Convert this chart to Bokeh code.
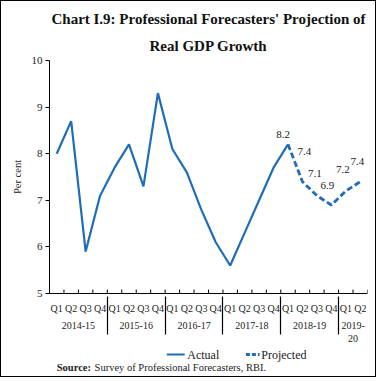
from bokeh.plotting import figure
from bokeh.layouts import column
from bokeh.models import FactorRange, Range1d, FixedTicker, ColumnDataSource, Title, Label
from bokeh.core.properties import value
from bokeh.embed import file_html
from bokeh.resources import INLINE

years = ["2014-15", "2015-16", "2016-17", "2017-18", "2018-19", "2019-\n20"]
quarters_per_year = [["Q1", "Q2", "Q3", "Q4"]] * 5 + [["Q1", "Q2"]]
actual = [8.0, 8.7, 5.9, 7.1, 7.7, 8.2, 7.3, 9.3, 8.1, 7.6, 6.8, 6.1, 5.6, 6.3, 7.0, 7.7, 8.2]
projected = [8.2, 7.4, 7.1, 6.9, 7.2, 7.4]
projected_labels = ["8.2", "7.4", "7.1", "6.9", "7.2", "7.4"]
y_ticks = [5, 6, 7, 8, 9, 10]
series_names = ["Actual", "Projected"]
source_note = ["Source:", "Survey of Professional Forecasters, RBI."]

factors = [(y, q) for y, qs in zip(years, quarters_per_year) for q in qs]
n = len(factors)

SERIF = "Liberation Serif"
BLUE = "#1f6db6"
DARK = "#222222"
W = 374
H1 = 345
H2 = 30

p = figure(width=W, height=H1, output_backend="svg", toolbar_location=None,
           x_range=FactorRange(*factors, group_padding=0, factor_padding=0, range_padding=0),
           y_range=Range1d(5, 10),
           min_border_left=48, min_border_right=8, min_border_top=59, min_border_bottom=50)
p.grid.visible = False
p.outline_line_color = None
p.background_fill_color = "white"

# y axis
yax = p.yaxis[0]
yax.ticker = FixedTicker(ticks=y_ticks)
yax.minor_tick_line_color = None
yax.major_tick_in = 0
yax.major_tick_out = 4
yax.axis_line_color = "black"
yax.major_tick_line_color = "black"
yax.major_label_text_font = SERIF
yax.major_label_text_font_size = "11px"
yax.major_label_text_color = DARK
yax.major_label_standoff = 3
yax.axis_label = "Per cent"
yax.axis_label_text_font = SERIF
yax.axis_label_text_font_size = "10.5px"
yax.axis_label_text_font_style = "normal"
yax.axis_label_text_color = DARK
yax.axis_label_standoff = 6

# categorical axis with two levels
cax = p.xaxis[0]
cax.axis_line_color = "black"
cax.major_tick_line_color = None
cax.major_label_text_font = SERIF
cax.major_label_text_font_size = "10px"
cax.major_label_text_color = DARK
cax.major_label_orientation = "horizontal"
cax.major_label_standoff = 3
cax.group_text_font = SERIF
cax.group_text_font_size = "10px"
cax.group_text_color = DARK
cax.group_text_font_style = "normal"
cax.separator_line_color = "black"
cax.separator_line_width = 1.2

# inward tick marks at quarter boundaries (synthetic categorical coordinates)
bounds = list(range(n + 1))
p.segment(x0=bounds, x1=bounds, y0=[5] * len(bounds), y1=[5.085] * len(bounds),
          line_color="black", line_width=1)

src_a = ColumnDataSource(dict(x=factors[:len(actual)], y=actual))
src_p = ColumnDataSource(dict(x=factors[len(actual) - 1:], y=projected, t=projected_labels,
                              dx=[-5, 2, -2, -4, -3, -3], dy=[-10, -30, -22, -19, -21, -20]))
p.line("x", "y", source=src_a, line_color=BLUE, line_width=2.2)
p.line("x", "y", source=src_p, line_color=BLUE, line_width=2.8, line_dash="6 3")
p.text("x", "y", text="t", source=src_p, x_offset="dx", y_offset="dy",
       text_font=value(SERIF), text_font_size="11px", text_color=DARK,
       text_align="center", text_baseline="middle")

t2 = Title(text="Real GDP Growth", align="center", text_font=SERIF, text_font_size="15px",
           text_font_style="bold", text_color="#111111", standoff=14, offset=-18)
t1 = Title(text="Chart I.9: Professional Forecasters' Projection of", align="center",
           text_font=SERIF, text_font_size="15px", text_font_style="bold", text_color="#111111",
           standoff=4, offset=-18)
p.add_layout(t2, "above")
p.add_layout(t1, "above")

# footer: legend keys + source note (pixel coordinates of the footer strip)
f = figure(width=W, height=H2, output_backend="svg", toolbar_location=None,
           x_range=Range1d(0, W), y_range=Range1d(0, H2),
           x_axis_location=None, y_axis_location=None,
           min_border_left=0, min_border_right=0, min_border_top=0, min_border_bottom=0)
f.grid.visible = False
f.outline_line_color = None
key_y = 22
f.line(x=[138, 159], y=[key_y, key_y], line_color=BLUE, line_width=2.2)
f.line(x=[231, 247], y=[key_y, key_y], line_color=BLUE, line_width=2.8, line_dash="4 2")
f.add_layout(Label(x=162, y=key_y, text=series_names[0], text_font=SERIF,
                   text_font_size="12px", text_color=DARK, text_baseline="middle"))
f.add_layout(Label(x=249, y=key_y, text=series_names[1], text_font=SERIF,
                   text_font_size="12px", text_color=DARK, text_baseline="middle"))
f.add_layout(Label(x=8.5, y=9.5, text=source_note[0], text_font=SERIF, text_font_size="10.5px",
                   text_font_style="bold", text_color=DARK, text_baseline="middle"))
f.add_layout(Label(x=53, y=9.5, text=source_note[1], text_font=SERIF, text_font_size="10.5px",
                   text_color=DARK, text_baseline="middle"))

layout = column(p, f, spacing=0, styles={"border": "1.5px solid #000"})

open("out.html", "w").write(file_html(layout, INLINE))
